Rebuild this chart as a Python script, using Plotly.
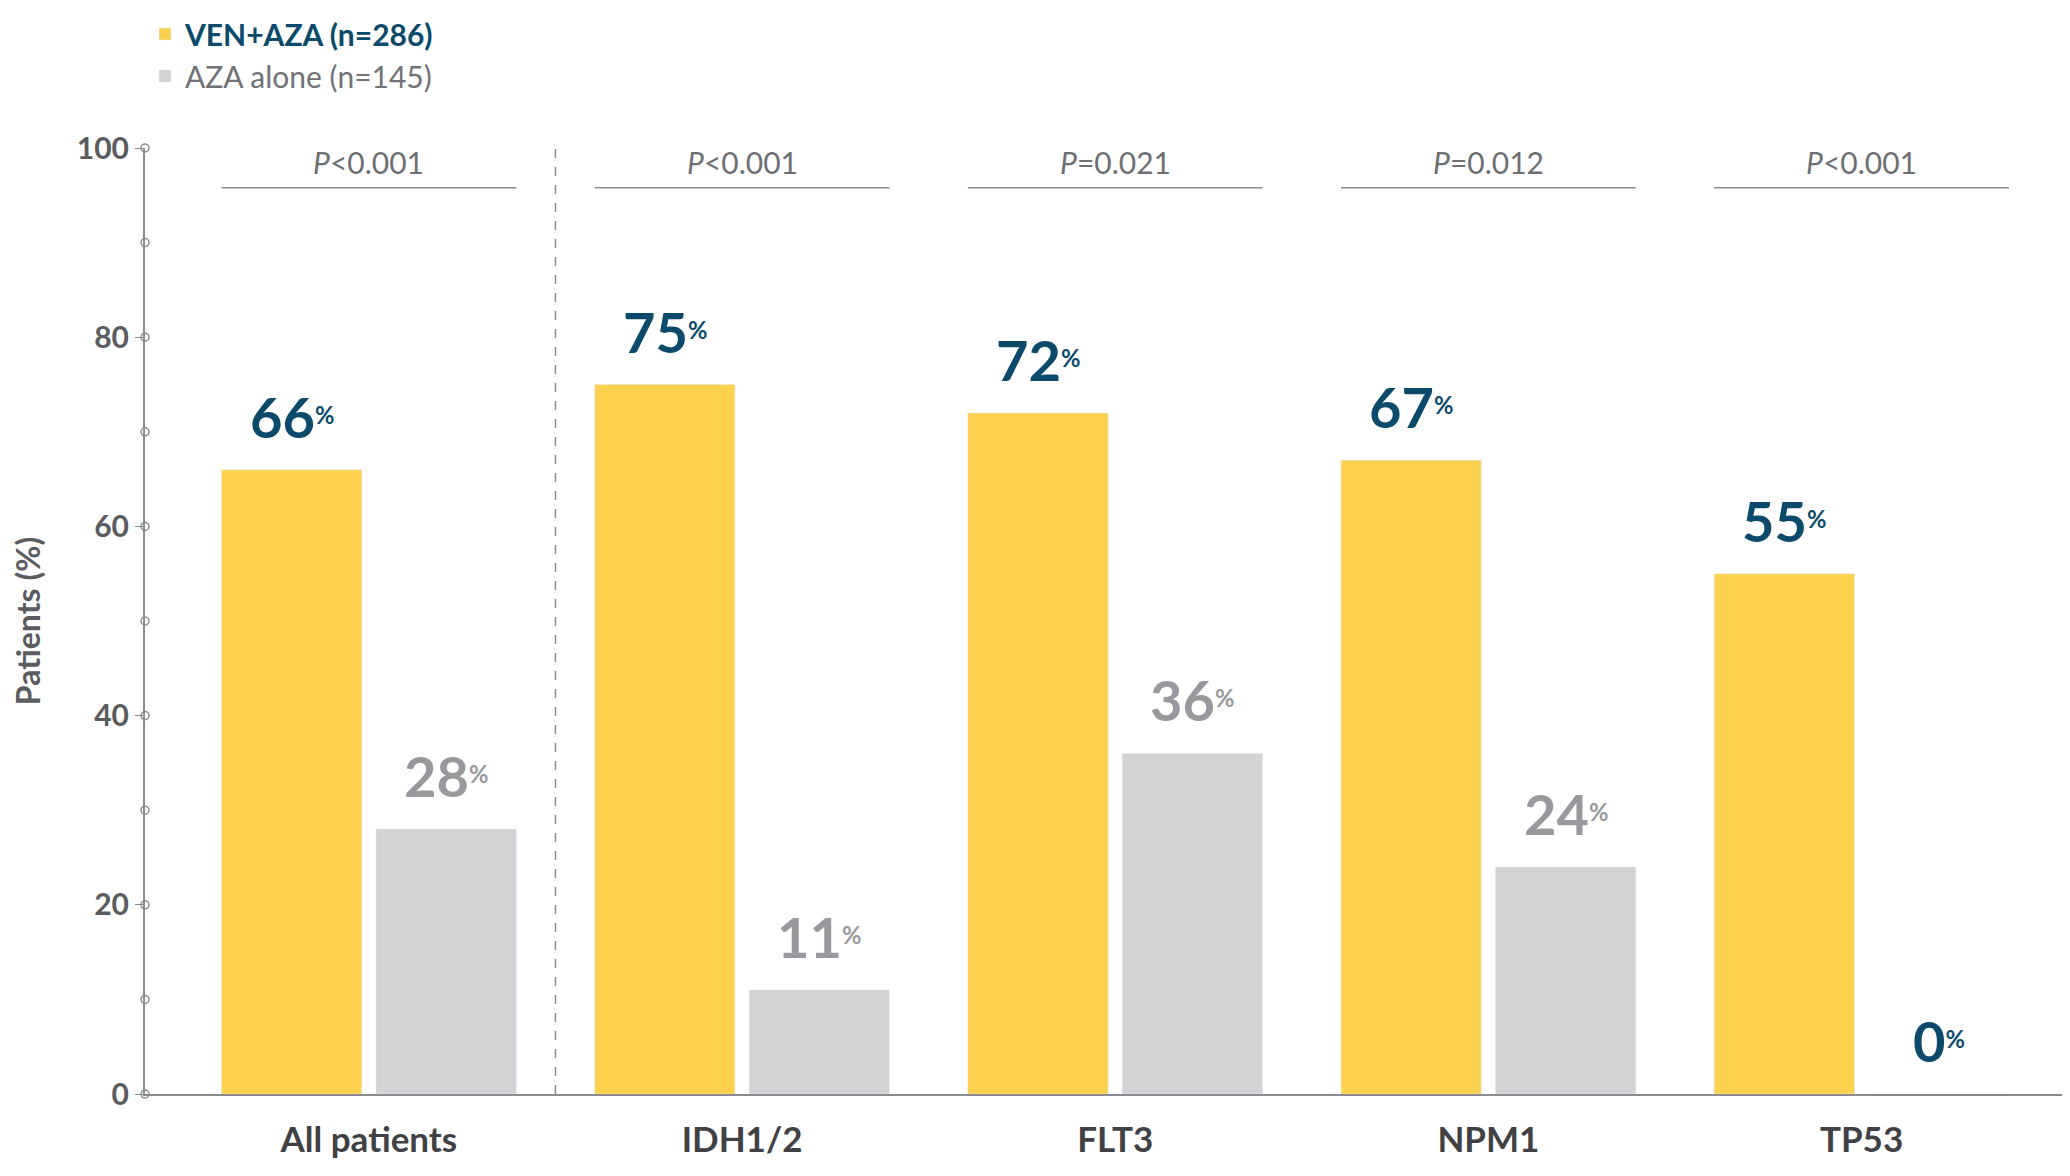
import plotly.graph_objects as go

categories = ["All patients", "IDH1/2", "FLT3", "NPM1", "TP53"]
ven_aza = [66, 75, 72, 67, 55]
aza_alone = [28, 11, 36, 24, 0]
p_values = ["<i>P</i><0.001", "<i>P</i><0.001", "<i>P</i>=0.021", "<i>P</i>=0.012", "<i>P</i><0.001"]
y_ticks = [0, 20, 40, 60, 80, 100]

YEL = "#fcd14d"; GRY = "#d2d3d5"; TEAL = "#0b4a6b"; TXTG = "#97999c"; AX = "#8a8c8f"
FONT = "Lato"
xs = list(range(len(categories)))

fig = go.Figure()
fig.add_bar(x=xs, y=ven_aza, name="<b><span style='color:#0b4a6b'>VEN+AZA (n=286)</span></b>",
            marker_color=YEL, offset=-0.395, width=0.376)
fig.add_bar(x=xs, y=aza_alone, name="<span style='color:#707275'>AZA alone (n=145)</span>",
            marker_color=GRY, offset=0.019, width=0.376)

fig.add_scatter(x=[-0.6]*11, y=list(range(0, 101, 10)), mode="markers",
                marker=dict(symbol="circle-open", size=8, color=AX, line=dict(width=1.5, color=AX)),
                showlegend=False, cliponaxis=False, hoverinfo="skip")

for i in xs:
    fig.add_annotation(x=i - 0.207, y=ven_aza[i], text=f"<b>{ven_aza[i]}<span style='font-size:34px'><sup>%</sup></span></b>",
                       showarrow=False, yanchor="bottom", yshift=18,
                       font=dict(family=FONT, size=56, color=TEAL))
    fig.add_annotation(x=i + 0.207, y=aza_alone[i], text=f"<b>{aza_alone[i]}<span style='font-size:34px'><sup>%</sup></span></b>",
                       showarrow=False, yanchor="bottom", yshift=18,
                       font=dict(family=FONT, size=56, color=TEAL if aza_alone[i] == 0 else TXTG))
    fig.add_shape(type="line", x0=i - 0.395, x1=i + 0.395, y0=95.8, y1=95.8,
                  line=dict(color=AX, width=1.5))
    fig.add_annotation(x=i, y=95.8, text=p_values[i], showarrow=False, yanchor="bottom", yshift=6,
                       font=dict(family=FONT, size=30, color="#6d6f72"))

fig.add_shape(type="line", x0=0.5, x1=0.5, y0=0, y1=100, line=dict(color=AX, width=1.5, dash="dash"))

fig.update_layout(
    width=2070, height=1176, barmode="overlay", plot_bgcolor="white", paper_bgcolor="white",
    margin=dict(l=137, r=0, t=140, b=90),
    font=dict(family=FONT),
    legend=dict(x=0.0, y=1.0, xref="paper", yref="container", xanchor="left", yanchor="top",
                font=dict(family=FONT, size=30), itemwidth=30, tracegroupgap=4, bgcolor="rgba(0,0,0,0)"),
    xaxis=dict(range=[-0.6, 4.58], tickvals=xs, ticktext=[f"<b>{c}</b>" for c in categories],
               tickfont=dict(family=FONT, size=35, color="#3f4144"), showgrid=False, zeroline=False,
               showline=True, linecolor=AX, linewidth=2, ticks="", ticklabelstandoff=14),
    yaxis=dict(range=[0, 100], tickvals=y_ticks, ticktext=[f"<b>{t}</b>" for t in y_ticks],
               tickfont=dict(family=FONT, size=30, color="#5a5c5f"), showgrid=False, zeroline=False,
               showline=True, linecolor=AX, linewidth=2, ticks="outside", ticklen=8, tickcolor=AX,
               title=dict(text="<b>Patients (%)</b>", font=dict(family=FONT, size=32, color="#5a5c5f"),
                          standoff=30)),
)
fig.write_html("out.html")
